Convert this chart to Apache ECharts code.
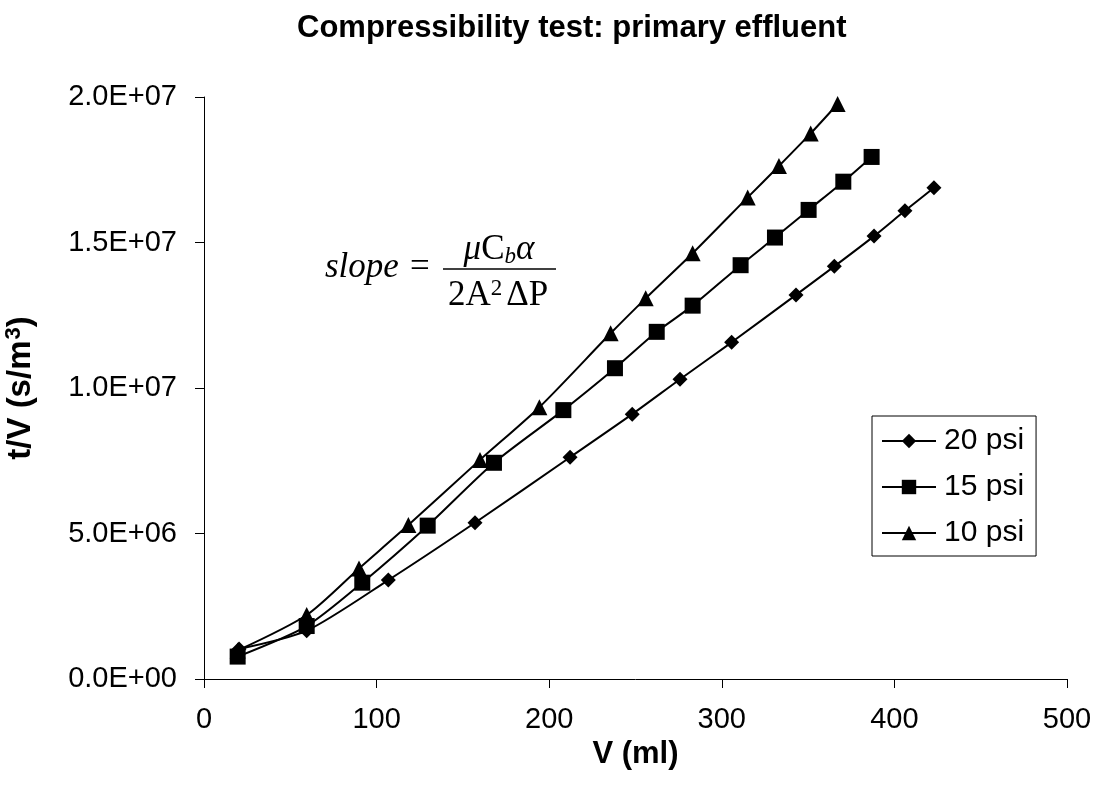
<!DOCTYPE html>
<html>
<head>
<meta charset="utf-8">
<title>Compressibility test</title>
<script src="https://cdn.jsdelivr.net/npm/echarts@6/dist/echarts.min.js"></script>
<style>
  html, body { margin: 0; padding: 0; background: #fff; }
  #chart { width: 1099px; height: 798px; }
</style>
</head>
<body>
<div id="chart"></div>
<script>
// values: V in ml, t/V in s/m3
const v20 = [20.3, 59.5, 106.8, 157.0, 212.1, 248.1, 275.8, 305.7, 343.0, 365.2, 388.2, 406.1, 422.9];
const t20 = [1.03e6, 1.66e6, 3.40e6, 5.37e6, 7.62e6, 9.10e6, 1.030e7, 1.157e7, 1.320e7, 1.418e7, 1.522e7, 1.609e7, 1.688e7];

const v15 = [19.5, 59.5, 91.7, 129.6, 168.0, 208.2, 238.1, 262.3, 283.1, 310.9, 330.8, 350.3, 370.4, 386.8];
const t15 = [0.77e6, 1.82e6, 3.31e6, 5.27e6, 7.43e6, 9.24e6, 1.068e7, 1.193e7, 1.283e7, 1.422e7, 1.517e7, 1.612e7, 1.709e7, 1.794e7];

const v10 = [19.5, 59.5, 89.8, 118.4, 159.9, 194.3, 235.6, 255.9, 283.1, 315.0, 333.1, 351.5, 367.1];
const t10 = [0.98e6, 2.20e6, 3.80e6, 5.29e6, 7.53e6, 9.34e6, 1.188e7, 1.308e7, 1.463e7, 1.655e7, 1.763e7, 1.875e7, 1.976e7];

const seriesNames = ['20 psi', '15 psi', '10 psi'];
const yTickLabels = ['0.0E+00', '5.0E+06', '1.0E+07', '1.5E+07', '2.0E+07'];

const pairs = (xs, ys) => xs.map((x, i) => [x, ys[i]]);

const font = 'Liberation Sans, Arial, sans-serif';
const serif = 'Liberation Serif, Times New Roman, serif';

const lineSeries = (name, data, symbol, size) => ({
  name: name,
  type: 'line',
  data: data,
  smooth: 0.25,
  symbol: symbol,
  symbolSize: size,
  showAllSymbol: true,
  itemStyle: {color: '#000'},
  lineStyle: {color: '#000', width: 2},
  emphasis: {disabled: true},
  z: 3
});

var chartDom = document.getElementById('chart');
var myChart = echarts.init(chartDom, null, {renderer: 'canvas'});

let option = {
  animation: false,
  backgroundColor: '#fff',
  title: {
    text: 'Compressibility test: primary effluent',
    left: 292,
    top: 8,
    textStyle: {fontFamily: font, fontSize: 31, fontWeight: 'bold', color: '#000'}
  },
  grid: {left: 204, right: 32, top: 97, bottom: 119, outerBoundsMode: 'none', containLabel: false},
  legend: {
    data: seriesNames,
    orient: 'vertical',
    left: 872,
    top: 416,
    padding: [9, 12, 7, 9],
    itemGap: 14,
    itemWidth: 54,
    itemHeight: 18,
    borderColor: '#000',
    borderWidth: 1,
    borderRadius: 0,
    backgroundColor: '#fff',
    textStyle: {fontFamily: font, fontSize: 30, lineHeight: 32, color: '#000', padding: [0, 0, 0, 3]}
  },
  xAxis: {
    type: 'value',
    min: 0,
    max: 500,
    interval: 100,
    name: 'V (ml)',
    nameLocation: 'middle',
    nameGap: 58,
    nameTextStyle: {fontFamily: font, fontSize: 31, fontWeight: 'bold', color: '#000'},
    axisLine: {lineStyle: {color: '#000', width: 1}},
    axisTick: {show: true, inside: false, length: 9, lineStyle: {color: '#000'}},
    axisLabel: {fontFamily: font, fontSize: 29, color: '#000', margin: 26},
    splitLine: {show: false}
  },
  yAxis: {
    type: 'value',
    min: 0,
    max: 2e7,
    interval: 5e6,
    name: '{a|t/V (s/m}{s|3}{a|)}',
    nameLocation: 'middle',
    nameGap: 165,
    nameTextStyle: {
      fontFamily: font, fontSize: 33, fontWeight: 'bold', color: '#000',
      rich: {
        a: {fontFamily: font, fontSize: 33, fontWeight: 'bold', color: '#000'},
        s: {fontFamily: font, fontSize: 22, fontWeight: 'bold', color: '#000', verticalAlign: 'top', padding: [0, 0, 14, 1]}
      }
    },
    axisLine: {show: true, lineStyle: {color: '#000', width: 1}},
    axisTick: {show: true, inside: false, length: 9, lineStyle: {color: '#000'}},
    axisLabel: {
      fontFamily: font, fontSize: 29, color: '#000', margin: 27,
      formatter: (val) => yTickLabels[Math.round(val / 5e6)]
    },
    splitLine: {show: false}
  },
  series: [
    lineSeries(seriesNames[0], pairs(v20, t20), 'diamond', 15),
    lineSeries(seriesNames[1], pairs(v15, t15), 'rect', 16),
    lineSeries(seriesNames[2], pairs(v10, t10), 'triangle', 16)
  ],
  graphic: [
    {
      type: 'text',
      x: 325,
      y: 268,
      style: {
        text: 'slope =',
        fontFamily: serif,
        fontSize: 35,
        fontStyle: 'italic',
        fill: '#000',
        align: 'left',
        verticalAlign: 'middle'
      }
    },
    {
      type: 'text',
      x: 499,
      y: 250,
      style: {
        text: '{i|μ}{n|C}{s|b}{i|α}',
        fill: '#000',
        align: 'center',
        verticalAlign: 'middle',
        rich: {
          i: {fontFamily: serif, fontSize: 35, fontStyle: 'italic'},
          n: {fontFamily: serif, fontSize: 35},
          s: {fontFamily: serif, fontSize: 23, fontStyle: 'italic', verticalAlign: 'bottom', padding: [14, 0, 0, 0]}
        }
      }
    },
    {
      type: 'line',
      shape: {x1: 443, y1: 269, x2: 556, y2: 269},
      style: {stroke: '#000', lineWidth: 1.5}
    },
    {
      type: 'text',
      x: 498,
      y: 296,
      style: {
        text: '{n|2A}{p|2}{n|ΔP}',
        fill: '#000',
        align: 'center',
        verticalAlign: 'middle',
        rich: {
          n: {fontFamily: serif, fontSize: 35},
          p: {fontFamily: serif, fontSize: 23, verticalAlign: 'top', padding: [0, 4, 14, 0]}
        }
      }
    }
  ]
};

option && myChart.setOption(option);
</script>
</body>
</html>
